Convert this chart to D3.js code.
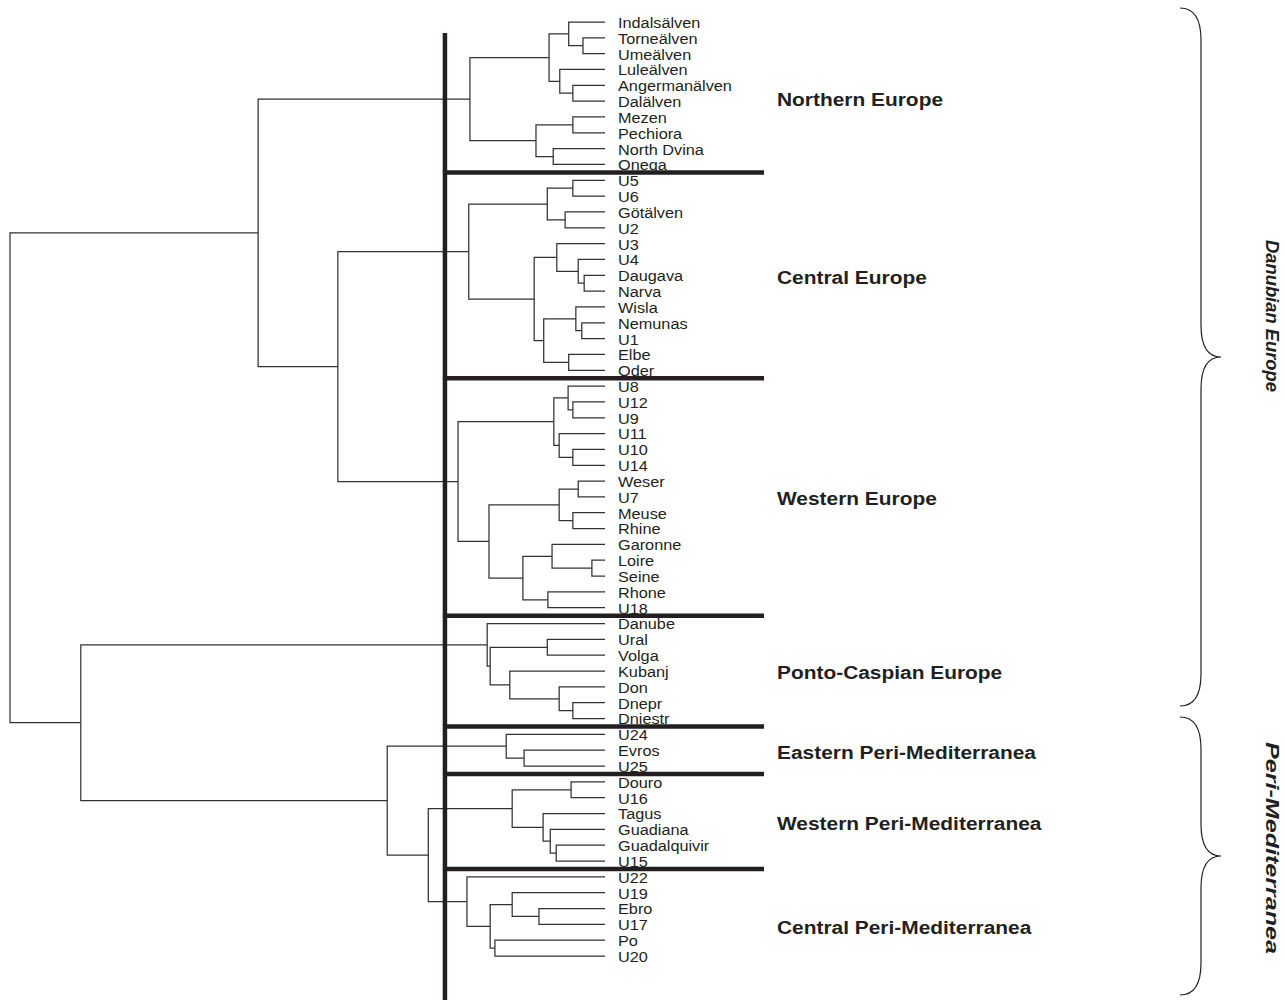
<!DOCTYPE html>
<html>
<head>
<meta charset="utf-8">
<script src="https://cdn.jsdelivr.net/npm/d3@7"></script>
<style>
  body { margin: 0; background: #fff; }
  svg { display: block; font-family: "Liberation Sans", Arial, Helvetica, sans-serif; }
</style>
</head>
<body>
<svg id="chart" width="1287" height="1000"></svg>
<script>
// leaves, top to bottom, as they appear in the dendrogram
const leaves = [
  "Indalsälven", "Torneälven", "Umeälven", "Luleälven", "Angermanälven", "Dalälven",
  "Mezen", "Pechiora", "North Dvina", "Onega",
  "U5", "U6", "Götälven", "U2", "U3", "U4", "Daugava", "Narva", "Wisla", "Nemunas", "U1", "Elbe", "Oder",
  "U8", "U12", "U9", "U11", "U10", "U14", "Weser", "U7", "Meuse", "Rhine", "Garonne", "Loire", "Seine", "Rhone", "U18",
  "Danube", "Ural", "Volga", "Kubanj", "Don", "Dnepr", "Dniestr",
  "U24", "Evros", "U25",
  "Douro", "U16", "Tagus", "Guadiana", "Guadalquivir", "U15",
  "U22", "U19", "Ebro", "U17", "Po", "U20"
];

// clusters cut at the thick line
const groupNames = [
  "Northern Europe", "Central Europe", "Western Europe", "Ponto-Caspian Europe",
  "Eastern Peri-Mediterranea", "Western Peri-Mediterranea", "Central Peri-Mediterranea"
];
const groupSizes = [10, 13, 15, 7, 3, 6, 6];

// big regions shown with braces
const regionNames = ["Danubian Europe", "Peri-Mediterranea"];

// linkage: id, left, right, merge height (root = 1)
const merges = [
  ["n1", "Torneälven", "Umeälven", 0.037],
  ["n2", "Indalsälven", "n1", 0.061],
  ["n3", "Angermanälven", "Dalälven", 0.054],
  ["n4", "Luleälven", "n3", 0.076],
  ["n5", "n2", "n4", 0.094],
  ["n6", "Mezen", "Pechiora", 0.054],
  ["n7", "North Dvina", "Onega", 0.087],
  ["n8", "n6", "n7", 0.116],
  ["n9", "n5", "n8", 0.227],
  ["c1", "U5", "U6", 0.054],
  ["c2", "Götälven", "U2", 0.067],
  ["c3", "c1", "c2", 0.097],
  ["c4", "Daugava", "Narva", 0.035],
  ["c5", "U4", "c4", 0.045],
  ["c6", "U3", "c5", 0.081],
  ["c7", "Nemunas", "U1", 0.039],
  ["c8", "Wisla", "c7", 0.049],
  ["c9", "Elbe", "Oder", 0.061],
  ["c10", "c8", "c9", 0.103],
  ["c11", "c6", "c10", 0.119],
  ["c12", "c3", "c11", 0.229],
  ["w1", "U12", "U9", 0.054],
  ["w2", "U8", "w1", 0.062],
  ["w3", "U10", "U14", 0.054],
  ["w4", "U11", "w3", 0.077],
  ["w5", "w2", "w4", 0.086],
  ["w6", "Weser", "U7", 0.045],
  ["w7", "Meuse", "Rhine", 0.054],
  ["w8", "w6", "w7", 0.077],
  ["w9", "Loire", "Seine", 0.022],
  ["w10", "Garonne", "w9", 0.089],
  ["w11", "Rhone", "U18", 0.096],
  ["w12", "w10", "w11", 0.138],
  ["w13", "w8", "w12", 0.195],
  ["w14", "w5", "w13", 0.247],
  ["d1", "c12", "w14", 0.449],
  ["d2", "n9", "d1", 0.583],
  ["p1", "Ural", "Volga", 0.097],
  ["p2", "Dnepr", "Dniestr", 0.054],
  ["p3", "Don", "p2", 0.077],
  ["p4", "Kubanj", "p3", 0.160],
  ["p5", "p1", "p4", 0.193],
  ["p6", "Danube", "p5", 0.198],
  ["e1", "Evros", "U25", 0.136],
  ["e2", "U24", "e1", 0.166],
  ["s1", "Douro", "U16", 0.057],
  ["s2", "Guadalquivir", "U15", 0.082],
  ["s3", "Guadiana", "s2", 0.092],
  ["s4", "Tagus", "s3", 0.104],
  ["s5", "s1", "s4", 0.156],
  ["m1", "Ebro", "U17", 0.111],
  ["m2", "U19", "m1", 0.156],
  ["m3", "Po", "U20", 0.185],
  ["m4", "m2", "m3", 0.193],
  ["m5", "U22", "m4", 0.232],
  ["r1", "s5", "m5", 0.297],
  ["r2", "e2", "r1", 0.366],
  ["r3", "p6", "r2", 0.881],
  ["root", "d2", "r3", 1.0]
];

const cutHeight = 0.269;

// ---- build the tree ----
const nodes = {};
leaves.forEach(name => nodes[name] = {name: name, h: 0});
merges.forEach(([id, a, b, h]) => nodes[id] = {name: id, h: h, children: [nodes[a], nodes[b]]});
const root = d3.hierarchy(nodes["root"]);

const x = d3.scaleLinear().domain([0, 1]).range([605, 10]);
const y = d3.scalePoint().domain(leaves).range([22, 956]);

root.eachAfter(d => {
  d.px = x(d.data.h);
  d.py = d.children ? d3.mean(d.children, c => c.py) : y(d.data.name);
});

const svg = d3.select("#chart");
const ink = "#231f20";

// ---- dendrogram links (elbows) ----
const links = svg.append("g").attr("stroke", "#333").attr("stroke-width", 1.25).attr("fill", "none");
root.descendants().filter(d => d.children).forEach(d => {
  const [a, b] = d.children;
  links.append("path")
    .attr("d", `M${a.px},${a.py}H${d.px}V${b.py}H${b.px}`);
});

// ---- leaf labels ----
svg.append("g").selectAll("text")
  .data(root.leaves())
  .join("text")
  .attr("transform", d => `translate(${d.px + 13},${d.py}) scale(1.05,1)`)
  .attr("dy", "0.38em")
  .attr("font-size", 15.5)
  .attr("fill", ink)
  .text(d => d.data.name);

// ---- cut line and group separators ----
const step = y.step();
const bottomEdge = 1000;
let start = 0;
const groups = groupNames.map((name, i) => {
  const first = leaves[start], last = leaves[start + groupSizes[i] - 1];
  start += groupSizes[i];
  return {name, first: y(first), last: y(last), bottom: y(last) + step / 2};
});
groups.forEach((g, i) => {
  const top = i === 0 ? 33 : groups[i - 1].bottom;
  const bot = i === groups.length - 1 ? bottomEdge : g.bottom;
  // label sits between the leaf centre and the centre of its band
  g.mid = ((g.first + g.last) / 2 + 3 + (top + bot) / 2) / 2;
});

const cutX = x(cutHeight);
svg.append("line")
  .attr("x1", cutX).attr("x2", cutX)
  .attr("y1", 33).attr("y2", bottomEdge)
  .attr("stroke", ink).attr("stroke-width", 4.5);

svg.append("g").selectAll("line")
  .data(groups.slice(0, -1))
  .join("line")
  .attr("x1", cutX - 2).attr("x2", 764)
  .attr("y1", d => d.bottom).attr("y2", d => d.bottom)
  .attr("stroke", ink).attr("stroke-width", 4.5);

svg.append("g").selectAll("text")
  .data(groups)
  .join("text")
  .attr("transform", d => `translate(777,${d.mid}) scale(1.1,1)`)
  .attr("dy", "0.36em")
  .attr("font-size", 19)
  .attr("font-weight", "bold")
  .attr("fill", ink)
  .text(d => d.name);

// ---- braces on the right ----
function brace(x0, xv, xt, y0, y1, r) {
  const ym = (y0 + y1) / 2;
  return `M${x0},${y0}Q${xv},${y0} ${xv},${y0 + r}V${ym - r}Q${xv},${ym} ${xt},${ym}` +
         `Q${xv},${ym} ${xv},${ym + r}V${y1 - r}Q${xv},${y1} ${x0},${y1}`;
}
// y0, y1, label centre, label length
const braceSpan = [[8, 706, 316, 152], [717, 995, 848, 212]];
regionNames.forEach((name, i) => {
  const [y0, y1, ly, len] = braceSpan[i];
  svg.append("path")
    .attr("d", brace(1180, 1201, 1221, y0, y1, 32))
    .attr("fill", "none").attr("stroke", ink).attr("stroke-width", 1.2);
  svg.append("text")
    .attr("transform", `translate(1272,${ly}) rotate(90)`)
    .attr("text-anchor", "middle")
    .attr("dy", "0.35em")
    .attr("font-size", 18)
    .attr("font-weight", "bold")
    .attr("font-style", "italic")
    .attr("textLength", len)
    .attr("lengthAdjust", "spacingAndGlyphs")
    .attr("fill", ink)
    .text(name);
});
</script>
</body>
</html>
